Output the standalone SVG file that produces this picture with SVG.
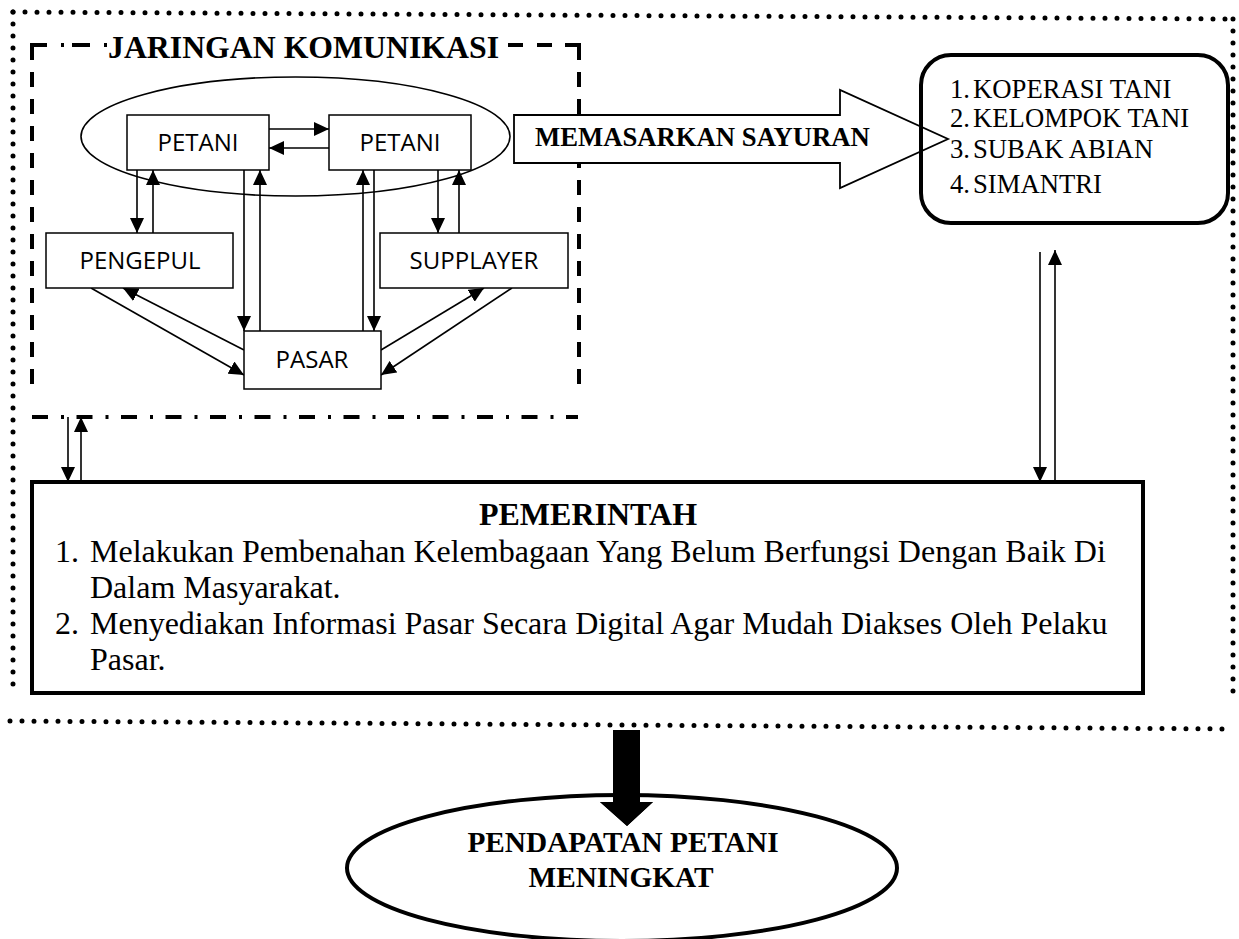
<svg xmlns="http://www.w3.org/2000/svg" width="1239" height="939" viewBox="0 0 1239 939">
<style>
.serif{font-family:"Liberation Serif","Times New Roman",serif;fill:#000}
.sans{font-family:"Open Sans","Liberation Sans",sans-serif;font-size:24px;fill:#000}
.box{fill:#fff;stroke:#000;stroke-width:1.5}
.ln{stroke:#000;stroke-width:1.6;fill:none}
.dot{stroke:#000;stroke-width:5;stroke-linecap:round;stroke-dasharray:0 12;fill:none}
.dash{stroke:#000;stroke-width:4;fill:none}
</style>
<defs>
<marker id="ah" markerUnits="userSpaceOnUse" markerWidth="15" markerHeight="14" refX="15" refY="7" orient="auto">
<path d="M0,0 L15,7 L0,14 Z" fill="#000"/>
</marker>
</defs>
<rect width="1239" height="939" fill="#fff"/>

<g id="outer-frame">
<line class="dot" x1="13" y1="12" x2="1233" y2="19"/>
<line class="dot" x1="13" y1="12" x2="13" y2="686"/>
<line class="dot" x1="1233" y1="19" x2="1233" y2="692"/>
<line class="dot" x1="10" y1="721" x2="1233" y2="729"/>
</g>

<g id="jaringan-komunikasi">
<path class="dash" d="M32,60 L32,45 L47,45"/>
<line class="dash" x1="61" y1="45" x2="64" y2="45"/>
<line class="dash" x1="72" y1="45" x2="90" y2="45"/>
<line class="dash" x1="104" y1="45" x2="107" y2="45"/>
<line class="dash" x1="508" y1="45" x2="523" y2="45"/>
<line class="dash" x1="537" y1="45" x2="552" y2="45"/>
<path class="dash" d="M565,45 L579,45 L579,60"/>
<line class="dash" x1="32" y1="72" x2="32" y2="392" stroke-dasharray="15 12"/>
<line class="dash" x1="579" y1="72" x2="579" y2="392" stroke-dasharray="15 12"/>
<line class="dash" x1="32" y1="417" x2="578" y2="417" stroke-dasharray="16 13 3 12.5"/>
<text class="serif" x="108" y="58" font-size="32" font-weight="bold" textLength="391" lengthAdjust="spacingAndGlyphs">JARINGAN KOMUNIKASI</text>
</g>

<g id="petani-group">
<ellipse class="ln" cx="295.5" cy="136.5" rx="214.5" ry="59.5"/>
</g>

<g id="connectors">
<line class="ln" x1="269" y1="129" x2="329" y2="129" marker-end="url(#ah)"/>
<line class="ln" x1="329" y1="148" x2="269" y2="148" marker-end="url(#ah)"/>
<line class="ln" x1="137" y1="170" x2="137" y2="233" marker-end="url(#ah)"/>
<line class="ln" x1="153" y1="233" x2="153" y2="170" marker-end="url(#ah)"/>
<line class="ln" x1="244" y1="170" x2="244" y2="331" marker-end="url(#ah)"/>
<line class="ln" x1="260" y1="331" x2="260" y2="170" marker-end="url(#ah)"/>
<line class="ln" x1="363" y1="336" x2="363" y2="170" marker-end="url(#ah)"/>
<line class="ln" x1="374" y1="170" x2="374" y2="331" marker-end="url(#ah)"/>
<line class="ln" x1="438" y1="170" x2="438" y2="233" marker-end="url(#ah)"/>
<line class="ln" x1="459" y1="233" x2="459" y2="170" marker-end="url(#ah)"/>
<line class="ln" x1="91" y1="288" x2="244" y2="375" marker-end="url(#ah)"/>
<line class="ln" x1="244" y1="350" x2="123" y2="288" marker-end="url(#ah)"/>
<line class="ln" x1="381" y1="350" x2="484" y2="288" marker-end="url(#ah)"/>
<line class="ln" x1="512" y1="288" x2="381" y2="375" marker-end="url(#ah)"/>
<line class="ln" x1="68" y1="417" x2="68" y2="482" marker-end="url(#ah)"/>
<line class="ln" x1="81" y1="482" x2="81" y2="417" marker-end="url(#ah)"/>
<line class="ln" x1="1040" y1="252" x2="1040" y2="482" marker-end="url(#ah)"/>
<line class="ln" x1="1055" y1="482" x2="1055" y2="250" marker-end="url(#ah)"/>
<path d="M613,730 L640,730 L640,802 L653,802 L627,826 L600,802 L613,802 Z" fill="#000"/>
</g>

<g id="petani-1">
<rect class="box" x="127" y="115" width="142" height="55"/>
<text class="sans" x="198" y="151" text-anchor="middle">PETANI</text>
</g>
<g id="petani-2">
<rect class="box" x="329" y="115" width="142" height="55"/>
<text class="sans" x="400" y="151" text-anchor="middle">PETANI</text>
</g>
<g id="pengepul">
<rect class="box" x="46" y="233" width="187" height="55"/>
<text class="sans" x="140" y="269" text-anchor="middle">PENGEPUL</text>
</g>
<g id="supplayer">
<rect class="box" x="380" y="233" width="188" height="55"/>
<text class="sans" x="474" y="269" text-anchor="middle">SUPPLAYER</text>
</g>
<g id="pasar">
<rect class="box" x="244" y="331" width="137" height="58"/>
<text class="sans" x="312" y="368" text-anchor="middle">PASAR</text>
</g>

<g id="memasarkan-sayuran">
<path d="M514,115 L840,115 L840,90 L948,139 L840,188 L840,163 L514,163 Z" fill="#fff" stroke="#000" stroke-width="1.8"/>
<text class="serif" x="535" y="146" font-size="26.7" font-weight="bold">MEMASARKAN SAYURAN</text>
</g>

<g id="lembaga">
<rect x="921" y="55" width="307" height="168" rx="30" ry="30" fill="none" stroke="#000" stroke-width="4"/>
<g class="serif" font-size="26.7">
<text x="950" y="98">1.</text><text x="973" y="98">KOPERASI TANI</text>
<text x="950" y="127">2.</text><text x="973" y="127">KELOMPOK TANI</text>
<text x="950" y="158">3.</text><text x="973" y="158">SUBAK ABIAN</text>
<text x="950" y="193">4.</text><text x="973" y="193">SIMANTRI</text>
</g>
</g>

<g id="pemerintah">
<rect x="32" y="482" width="1111" height="211" fill="#fff" stroke="#000" stroke-width="4"/>
<text class="serif" x="588" y="525" font-size="32" font-weight="bold" text-anchor="middle">PEMERINTAH</text>
<g class="serif" font-size="32">
<text x="55" y="562">1.</text><text x="90" y="562">Melakukan Pembenahan Kelembagaan Yang Belum Berfungsi Dengan Baik Di</text>
<text x="90" y="598">Dalam Masyarakat.</text>
<text x="55" y="634">2.</text><text x="90" y="634">Menyediakan Informasi Pasar Secara Digital Agar Mudah Diakses Oleh Pelaku</text>
<text x="90" y="670">Pasar.</text>
</g>
</g>

<g id="pendapatan">
<ellipse cx="622" cy="868" rx="275" ry="73" fill="none" stroke="#000" stroke-width="4"/>
<path d="M613,730 L640,730 L640,802 L653,802 L627,826 L600,802 L613,802 Z" fill="#000"/>
<g class="serif" font-size="29.3" font-weight="bold" text-anchor="middle">
<text x="623" y="852">PENDAPATAN PETANI</text>
<text x="621" y="887">MENINGKAT</text>
</g>
</g>
</svg>
